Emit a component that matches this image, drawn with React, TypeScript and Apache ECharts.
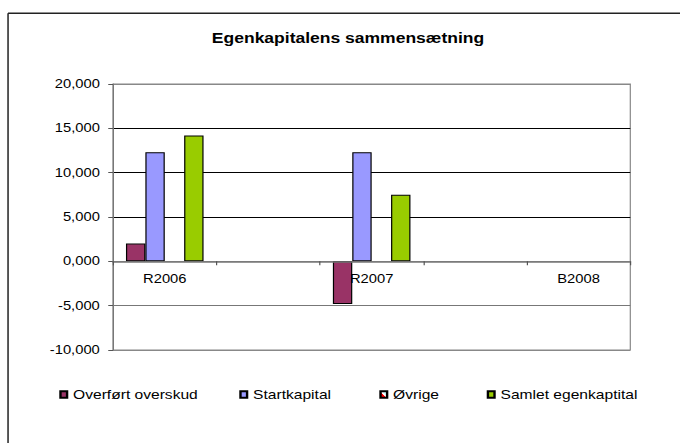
import React, { useEffect, useRef } from 'react';
import * as echarts from 'echarts';

const categories = ['R2006', '', 'R2007', '', 'B2008'];
const overfoertOverskud = [2000, null, -4800, null, null];
const startkapital = [12300, null, 12300, null, null];
const oevrige = [null, null, null, null, null];
const samletEgenkapital = [14200, null, 7500, null, null];
const seriesNames = ['Overført overskud', 'Startkapital', 'Øvrige', 'Samlet egenkaptital'];
const yMin = -10000;
const yMax = 20000;
const yInterval = 5000;
const titleText = 'Egenkapitalens sammensætning';

const FONT = '"Liberation Sans", Arial, sans-serif';
const STRETCH = 1.2;
const W = 567;
const H = 443;
const GRID_TOP = 84;
const GRID_BOTTOM_Y = 350;

export default function App() {
  const ref = useRef<HTMLDivElement>(null);

  useEffect(() => {
    if (!ref.current) return;
    const chart = echarts.init(ref.current, undefined, { renderer: 'svg' });
    const barStyle = (color: any) => ({ color, borderColor: '#000', borderWidth: 1 });
    const oevrigeColor = {
      type: 'linear', x: 0, y: 1, x2: 1, y2: 0,
      colorStops: [
        { offset: 0, color: '#ff0000' },
        { offset: 0.42, color: '#ff0000' },
        { offset: 0.48, color: '#ffffff' },
        { offset: 0.58, color: '#ffffff' },
        { offset: 0.65, color: '#ccffff' },
        { offset: 1, color: '#ccffff' },
      ],
    };
    const colors = ['#993366', '#9999ff', oevrigeColor, '#99cc00'];
    const datas = [overfoertOverskud, startkapital, oevrige, samletEgenkapital];
    const legendLefts = [49.4, 199.4, 316.1, 405.6];

    // vertical distance from the bottom of the plot to the zero line
    const plotH = GRID_BOTTOM_Y - GRID_TOP;
    const zeroY = GRID_TOP + plotH * (yMax / (yMax - yMin));
    const xAxisOffset = -(GRID_BOTTOM_Y - zeroY);

    chart.setOption({
      animation: false,
      backgroundColor: '#ffffff',
      graphic: [
        {
          type: 'line',
          shape: { x1: 6.7, y1: 13.3, x2: 700, y2: 13.3 },
          style: { stroke: '#222', lineWidth: 1.5 },
          z: 100,
        },
        {
          type: 'line',
          shape: { x1: 6.7, y1: 13.3, x2: 6.7, y2: 500 },
          style: { stroke: '#222', lineWidth: 1.25 },
          z: 100,
        },
        {
          type: 'text',
          x: 290,
          y: 38,
          style: {
            text: titleText,
            font: `bold 14.6px ${FONT}`,
            fill: '#000',
            align: 'center',
            verticalAlign: 'middle',
            textAlign: 'center',
            textVerticalAlign: 'middle',
          },
          z: 100,
        },
      ],
      legend: seriesNames.map((name, i) => ({
        data: [name],
        left: legendLefts[i],
        top: 388,
        padding: 0,
        itemWidth: 5.5,
        itemHeight: 6.5,
        icon: 'rect',
        selectedMode: false,
        textStyle: { fontFamily: FONT, fontSize: 13, color: '#000' },
      })),
      grid: {
        left: 94.2,
        right: W - 525.25,
        top: GRID_TOP,
        bottom: H - GRID_BOTTOM_Y,
        show: true,
        borderColor: '#888',
        borderWidth: 1,
        backgroundColor: 'transparent',
      },
      xAxis: {
        type: 'category',
        data: categories,
        position: 'bottom',
        offset: xAxisOffset,
        axisLine: { onZero: false, lineStyle: { color: '#777', width: 1.5 } },
        axisTick: { show: true, interval: 0, length: 4, inside: false, lineStyle: { color: '#555' } },
        axisLabel: { interval: 0, margin: 12, fontFamily: FONT, fontSize: 12.3, color: '#000' },
        splitLine: { show: false },
        z: 5,
      },
      yAxis: {
        type: 'value',
        min: yMin,
        max: yMax,
        interval: yInterval,
        axisLine: { show: true, lineStyle: { color: '#777', width: 1 } },
        axisTick: { show: true, length: 4, lineStyle: { color: '#555' } },
        axisLabel: {
          margin: 11,
          fontFamily: FONT,
          fontSize: 12.3,
          color: '#000',
          formatter: (v: number) => (v < 0 ? '-' : '') + Math.abs(v) / 1000 + ',000',
        },
        splitLine: {
          show: true,
          lineStyle: { color: ['#888', '#777', '#888', '#000', '#000', '#000', '#888'], width: 1 },
        },
      },
      series: seriesNames.map((name, i) => ({
        name,
        type: 'bar',
        data: datas[i],
        barGap: '0%',
        barCategoryGap: '25%',
        itemStyle: barStyle(colors[i]),
      })),
    });
    return () => chart.dispose();
  }, []);

  return (
    <div
      style={{
        position: 'absolute',
        left: 0,
        top: 0,
        width: W * STRETCH,
        height: H,
        overflow: 'hidden',
        background: '#fff',
      }}
    >
      <div
        ref={ref}
        style={{
          width: W,
          height: H,
          transform: `scaleX(${STRETCH})`,
          transformOrigin: '0 0',
        }}
      />
    </div>
  );
}
